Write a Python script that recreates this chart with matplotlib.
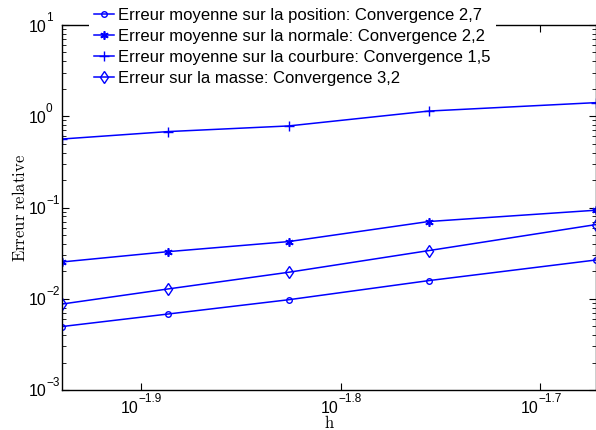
import matplotlib
matplotlib.use("Agg")
import matplotlib.pyplot as plt
from matplotlib.ticker import FixedLocator, LogLocator, NullLocator

# mesh sizes h = 1/N
h = [1 / 87, 1 / 77, 1 / 67, 1 / 57, 1 / 47]

err_position = [0.00496, 0.0068, 0.00975, 0.0158, 0.0266]
err_normale = [0.0253, 0.0328, 0.0423, 0.0702, 0.0934]
err_courbure = [0.563, 0.679, 0.783, 1.14, 1.41]
err_masse = [0.00875, 0.0128, 0.0195, 0.0337, 0.0650]

labels = [
    "Erreur moyenne sur la position: Convergence 2,7",
    "Erreur moyenne sur la normale: Convergence 2,2",
    "Erreur moyenne sur la courbure: Convergence 1,5",
    "Erreur sur la masse: Convergence 3,2",
]
xtick_exp = ["-1.9", "-1.8", "-1.7"]
ytick_exp = ["-3", "-2", "-1", "0", "1"]

plt.rcParams["font.family"] = ["Liberation Sans", "DejaVu Sans"]

fig = plt.figure(figsize=(5.96, 4.30), dpi=100)
ax = fig.add_axes([62 / 596, 1 - 390 / 430, 1 - 62 / 596, (390 - 25) / 430])

blue = (0, 0, 1)
asterisk = (6, 2, 0)
ax.plot(h, err_position, color=blue, lw=1.1, marker="o", ms=4, mfc="none", mew=1.0, label=labels[0])
ax.plot(h, err_normale, color=blue, lw=1.1, marker=asterisk, ms=6, mew=1.2, label=labels[1])
ax.plot(h, err_courbure, color=blue, lw=1.1, marker="+", ms=7, mew=1.0, label=labels[2])
ax.plot(h, err_masse, color=blue, lw=1.1, marker="d", ms=6.5, mfc="none", mew=1.0, label=labels[3])

ax.set_xscale("log")
ax.set_yscale("log")
ax.set_xlim(min(h), max(h))
ax.set_ylim(1e-3, 1e1)

ax.xaxis.set_major_locator(FixedLocator([10 ** float(e) for e in xtick_exp]))
ax.xaxis.set_minor_locator(NullLocator())
ax.yaxis.set_major_locator(LogLocator(base=10, numticks=10))
ax.yaxis.set_minor_locator(LogLocator(base=10, subs=range(2, 10), numticks=20))

ax.tick_params(which="both", direction="in", top=True, right=True,
               labelbottom=False, labelleft=False)
ax.tick_params(which="major", length=5, width=0.8)
ax.tick_params(which="minor", length=3, width=0.6)
for s in ax.spines.values():
    s.set_linewidth(1.0)

# MATLAB-style "10^e" tick labels
for e in xtick_exp:
    xy = (10 ** float(e), 0)
    ax.annotate("10", xy=xy, xycoords=("data", "axes fraction"), xytext=(-2, -23),
                textcoords="offset pixels", ha="right", va="baseline", fontsize=11.5)
    ax.annotate(e.replace("-", "\u2212"), xy=xy, xycoords=("data", "axes fraction"),
                xytext=(-2, -12.5), textcoords="offset pixels", ha="left",
                va="baseline", fontsize=8.5)
for e in ytick_exp:
    xy = (0, 10 ** float(e))
    ax.annotate("10", xy=xy, xycoords=("axes fraction", "data"), xytext=(-16, -6.5),
                textcoords="offset pixels", ha="right", va="baseline", fontsize=11.5)
    ax.annotate(e.replace("-", "\u2212"), xy=xy, xycoords=("axes fraction", "data"),
                xytext=(-16, 4), textcoords="offset pixels", ha="left",
                va="baseline", fontsize=8.5)

ax.set_xlabel(r"$\mathrm{h}$", fontsize=12, math_fontfamily="cm")
ax.xaxis.set_label_coords(0.5, -0.067)
ax.set_ylabel(r"$\mathrm{Erreur\ relative}$", fontsize=12, math_fontfamily="cm")
ax.yaxis.set_label_coords(-0.063, 0.5)

leg = ax.legend(loc="upper left", bbox_to_anchor=(89 / 596, 1 - 3 / 430),
                bbox_transform=fig.transFigure, fontsize=12, handlelength=1.2,
                handletextpad=0.25, labelspacing=0.36, borderpad=0.3,
                frameon=True, fancybox=False, borderaxespad=0)
leg.get_frame().set_facecolor("white")
leg.get_frame().set_edgecolor("none")
leg.get_frame().set_alpha(1)

fig.savefig("out.png", dpi=100)
